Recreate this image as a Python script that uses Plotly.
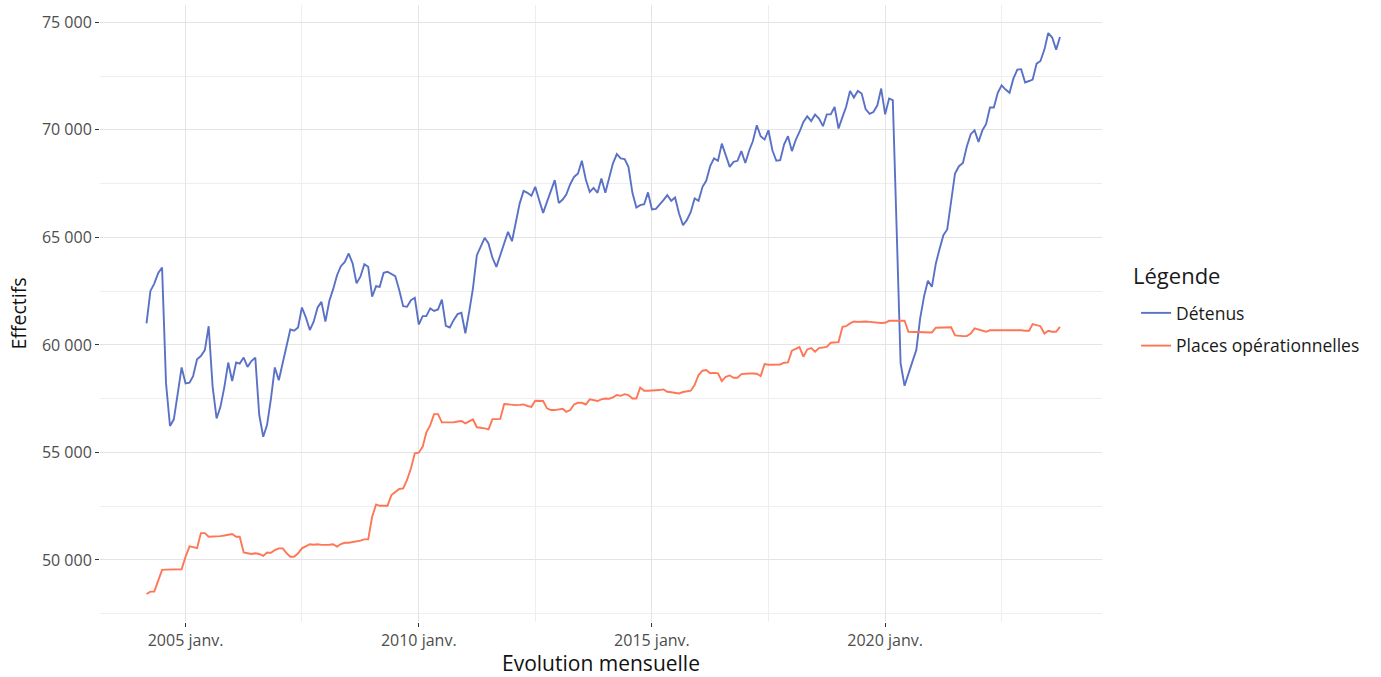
import pandas as pd
import plotly.graph_objects as go

# Monthly series, March 2004 -> October 2023
start_month = "2004-03-01"

detenus = [
    # 2004 (Mar-Dec)
    61000, 62510, 62850, 63350, 63600, 58210, 56230, 56540, 57750, 58950,
    # 2005
    58210, 58240, 58550, 59330, 59480, 59760, 60870, 58050, 56580, 57120, 58050, 59180,
    # 2006
    58320, 59180, 59130, 59410, 58980, 59250, 59410, 56740, 55730, 56270, 57510, 58950,
    # 2007
    58360, 59140, 59790, 60720, 60660, 60810, 61740, 61280, 60690, 61080, 61740, 62000,
    # 2008
    61080, 62050, 62580, 63240, 63660, 63860, 64250, 63790, 62860, 63170, 63750, 63630,
    # 2009
    62240, 62730, 62700, 63350, 63400, 63290, 63200, 62550, 61800, 61770, 62080, 62190,
    # 2010
    60950, 61340, 61340, 61700, 61580, 61650, 62110, 60890, 60810, 61150, 61430, 61490,
    # 2011
    60540, 61580, 62620, 64170, 64600, 64980, 64720, 64050, 63630, 64140, 64720, 65260,
    # 2012
    64820, 65800, 66570, 67160, 67070, 66930, 67350, 66730, 66140, 66650, 67190, 67660,
    # 2013
    66600, 66760, 66990, 67470, 67810, 67970, 68560, 67690, 67110, 67300, 67070, 67740,
    # 2014
    67070, 67810, 68430, 68870, 68670, 68640, 68280, 67070, 66390, 66500, 66540, 67090,
    # 2015
    66300, 66320, 66500, 66730, 66960, 66700, 66850, 66110, 65570, 65800, 66180, 66810,
    # 2016
    66700, 67350, 67630, 68310, 68670, 68560, 69360, 68820, 68280, 68510, 68560, 69010,
    # 2017
    68460, 69050, 69470, 70210, 69700, 69550, 69980, 69050, 68560, 68590, 69330, 69700,
    # 2018
    69010, 69550, 69900, 70370, 70630, 70410, 70710, 70520, 70170, 70720, 70720, 71060,
    # 2019
    70060, 70600, 71060, 71810, 71500, 71810, 71690, 70970, 70740, 70830, 71140, 71920,
    # 2020
    70720, 71450, 71380, 65200, 59140, 58100, 58700, 59210, 59760, 61230, 62270, 62980,
    # 2021
    62700, 63790, 64440, 65100, 65370, 66600, 67970, 68310, 68460, 69210, 69800, 69980,
    # 2022
    69440, 69980, 70260, 71040, 71040, 71720, 72070, 71870, 71720, 72380, 72800, 72820,
    # 2023 (Jan-Oct)
    72200, 72270, 72340, 73080, 73200, 73730, 74500, 74290, 73730, 74320,
]

places = [
    # 2004 (Mar-Dec)
    48420, 48530, 48530, 49050, 49540, 49550, 49550, 49550, 49550, 49570,
    # 2005
    50150, 50630, 50600, 50550, 51250, 51250, 51080, 51080, 51080, 51110, 51140, 51160,
    # 2006
    51210, 51080, 51080, 50350, 50310, 50280, 50310, 50280, 50190, 50350, 50330, 50460,
    # 2007
    50540, 50540, 50330, 50150, 50150, 50310, 50540, 50620, 50730, 50710, 50730, 50700,
    # 2008
    50690, 50710, 50730, 50620, 50740, 50800, 50800, 50830, 50870, 50900, 50960, 50960,
    # 2009
    52010, 52580, 52520, 52520, 52520, 53020, 53170, 53300, 53330, 53720, 54260, 54960,
    # 2010
    54990, 55270, 55920, 56270, 56780, 56780, 56400, 56400, 56400, 56400, 56440, 56460,
    # 2011
    56350, 56460, 56540, 56170, 56150, 56120, 56070, 56550, 56550, 56560, 57250, 57230,
    # 2012
    57210, 57200, 57210, 57230, 57160, 57120, 57400, 57400, 57390, 57050, 56970, 56970,
    # 2013
    57000, 57030, 56890, 56970, 57230, 57310, 57310, 57230, 57470, 57430, 57390, 57470,
    # 2014
    57510, 57500, 57560, 57670, 57630, 57710, 57670, 57510, 57510, 58020, 57870, 57870,
    # 2015
    57870, 57870, 57900, 57930, 57820, 57800, 57770, 57740, 57810, 57850, 57870, 58130,
    # 2016
    58600, 58800, 58830, 58680, 58700, 58680, 58320, 58520, 58580, 58470, 58470, 58640,
    # 2017
    58670, 58670, 58670, 58660, 58550, 59110, 59080, 59080, 59080, 59090, 59170, 59190,
    # 2018
    59730, 59820, 59900, 59450, 59790, 59850, 59680, 59850, 59870, 59910, 60100, 60120,
    # 2019
    60130, 60840, 60870, 61000, 61090, 61070, 61090, 61090, 61070, 61050, 61020, 61020,
    # 2020
    61030, 61120, 61120, 61120, 61120, 61120, 60610, 60610, 60610, 60610, 60610, 60600,
    # 2021
    60580, 60800, 60800, 60810, 60820, 60820, 60440, 60410, 60410, 60410, 60530, 60770,
    # 2022
    60720, 60680, 60610, 60680, 60680, 60700, 60690, 60700, 60700, 60690, 60680, 60680,
    # 2023 (Jan-Oct)
    60660, 60660, 60970, 60920, 60870, 60530, 60660, 60610, 60610, 60840,
]

series_names = ["Détenus", "Places opérationnelles"]
series_colors = ["#5A72C6", "#FF7656"]
legend_title = "Légende"

x_tick_vals = ["2005-01-01", "2010-01-01", "2015-01-01", "2020-01-01"]
x_tick_text = ["2005 janv.", "2010 janv.", "2015 janv.", "2020 janv."]
x_minor_vals = ["2007-07-01", "2012-07-01", "2017-07-01", "2022-07-01"]

months = pd.date_range(start_month, periods=len(detenus), freq="MS")

FONT = "Open Sans"

fig = go.Figure()
for name, vals, col in zip(series_names, [detenus, places], series_colors):
    fig.add_trace(go.Scatter(
        x=months, y=vals, mode="lines", name=name, legendgroup=name,
        line=dict(color=col, width=1.9),
    ))

grid_major = "#E4E4E4"
grid_minor = "#EEEEEE"

fig.add_annotation(
    text=legend_title, xref="paper", yref="paper",
    x=1.029, y=0.562, xanchor="left", yanchor="middle",
    showarrow=False, font=dict(size=22, color="#1a1a1a", family=FONT),
)

fig.update_layout(
    width=1381, height=677,
    plot_bgcolor="white", paper_bgcolor="white",
    margin=dict(l=100, r=279, t=5, b=55, autoexpand=False),
    separators=", ",
    font=dict(family=FONT, color="#222222"),
    legend=dict(
        font=dict(size=17.5, color="#1a1a1a", family=FONT),
        x=1.034, xanchor="left", y=0.53, yanchor="top",
        tracegroupgap=7, itemwidth=30,
        bgcolor="rgba(0,0,0,0)",
    ),
    xaxis=dict(
        type="date", automargin=False,
        range=["2003-03-03", "2024-08-25"],
        tickmode="array", tickvals=x_tick_vals, ticktext=x_tick_text,
        tickfont=dict(size=16, color="#4D4D4D", family=FONT),
        ticks="outside", ticklen=4, tickcolor="#333333", tickwidth=1,
        showgrid=True, gridcolor=grid_major, gridwidth=1.3,
        minor=dict(tickmode="array", tickvals=x_minor_vals, showgrid=True,
                   gridcolor=grid_minor, gridwidth=0.9, ticks=""),
        showline=False, zeroline=False,
        title=dict(text="Evolution mensuelle", font=dict(size=21, color="#111111", family=FONT), standoff=0),
    ),
    yaxis=dict(
        automargin=False,
        range=[47116, 75804],
        tick0=50000, dtick=5000, tickformat=",d",
        tickfont=dict(size=16, color="#4D4D4D", family=FONT),
        ticks="outside", ticklen=4, tickcolor="#333333", tickwidth=1,
        showgrid=True, gridcolor=grid_major, gridwidth=1.3,
        minor=dict(dtick=2500, tick0=47500, showgrid=True, gridcolor=grid_minor,
                   gridwidth=0.9, ticks=""),
        showline=False, zeroline=False,
        title=dict(text="Effectifs", font=dict(size=19.5, color="#111111", family=FONT), standoff=10),
    ),
)

fig.write_html("out.html", config={"displayModeBar": False},
               post_script="document.body.style.margin='0px';")
